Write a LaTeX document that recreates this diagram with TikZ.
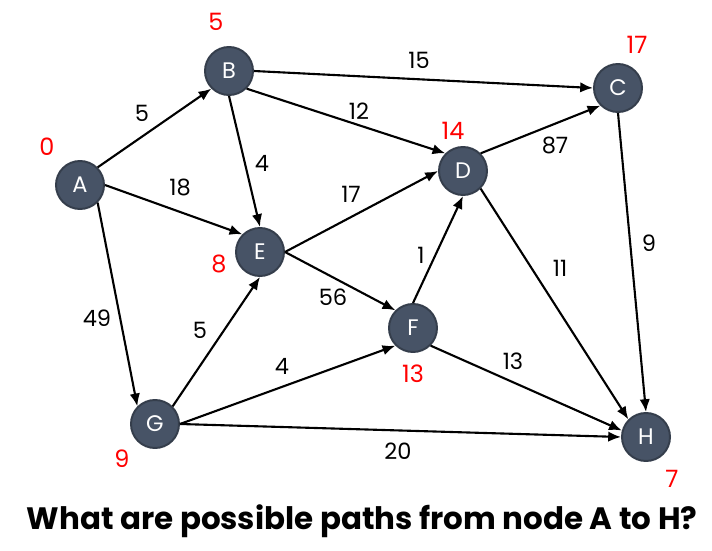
\documentclass[tikz,border=0pt]{standalone}
\usepackage{fontspec}
\setmainfont{Poppins}
\usetikzlibrary{arrows.meta}
\usetikzlibrary{positioning}

\definecolor{vtxfill}{HTML}{475366}
\definecolor{vtxline}{HTML}{353E4C}
\definecolor{distred}{HTML}{FF0000}

\tikzset{
  vtx/.style={circle,fill=vtxfill,draw=vtxline,line width=1.4pt,minimum size=1.2cm,inner sep=0pt,text=white,font=\fontsize{16}{16}\selectfont},
  edge/.style={line width=1.5pt,-{Latex[length=3.2mm,width=2.6mm]}},
  wt/.style={font=\fontsize{16}{16}\selectfont,text=black},
  dist/.style={font=\fontsize{17}{17}\selectfont,text=distred}
}

\begin{document}
\begin{tikzpicture}[x=0.025cm,y=-0.025cm]
\useasboundingbox (0,0) rectangle (712,551);
\fill[white] (0,0) rectangle (712,551);

% vertices
\node[vtx] (A) at (80,185) {A};
\node[vtx] (B) at (229,71) {B};
\node[vtx] (C) at (618,88) {C};
\node[vtx] (D) at (463,171) {D};
\node[vtx] (E) at (260,252) {E};
\node[vtx] (F) at (413,328) {F};
\node[vtx] (G) at (155,424) {G};
\node[vtx] (H) at (646,437) {H};

% edges
\draw[edge] (A.north east) -- (B.south west);
\draw[edge] (A.east) -- (E.north west);
\draw[edge] (A.south east) -- (G.north west);
\draw[edge] (B.south) -- (E.north);
\draw[edge] (B.east) -- (C.west);
\draw[edge] (B.south east) -- (D.north west);
\draw[edge] (E.east) -- (D.west);
\draw[edge] (D.north east) -- (C.south west);
\draw[edge] (C.south) -- (H.north);
\draw[edge] (D.south east) -- (H.north west);
\draw[edge] (F.north) -- (D.south);
\draw[edge] (E.east) -- (F.north west);
\draw[edge] (G.north east) -- (E.south);
\draw[edge] (G.east) -- (F.south west);
\draw[edge] (F.south east) -- (H.165);
\draw[edge] (G.east) -- (H.west);

% weights
\node[wt] (wAB) at (142,113) {5};
\node[wt] (wAE) at (180,187) {18};
\node[wt] (wAG) at (97,318) {49};
\node[wt] (wBE) at (262,163) {4};
\node[wt] (wBC) at (419,60) {15};
\node[wt] (wBD) at (359,111) {12};
\node[wt] (wED) at (351,194) {17};
\node[wt] (wDC) at (555,145) {87};
\node[wt] (wCH) at (649,243) {9};
\node[wt] (wDH) at (560,268) {11};
\node[wt] (wFD) at (421,255) {1};
\node[wt] (wEF) at (333,297) {56};
\node[wt] (wGE) at (200,330) {5};
\node[wt] (wGF) at (282,366) {4};
\node[wt] (wFH) at (513,361) {13};
\node[wt] (wGH) at (398,451) {20};

% distances
\node[dist] (dA) at (47,147) {0};
\node[dist] (dB) at (216,22) {5};
\node[dist] (dC) at (637,45) {17};
\node[dist] (dD) at (453,131) {14};
\node[dist] (dE) at (219,264) {8};
\node[dist] (dF) at (413,374) {13};
\node[dist] (dG) at (122,459) {9};
\node[dist] (dH) at (672,479) {7};

\node[font=\fontsize{22}{22}\selectfont\bfseries] (title) at (362,521) {What are possible paths from node A to H?};
\end{tikzpicture}
\end{document}
